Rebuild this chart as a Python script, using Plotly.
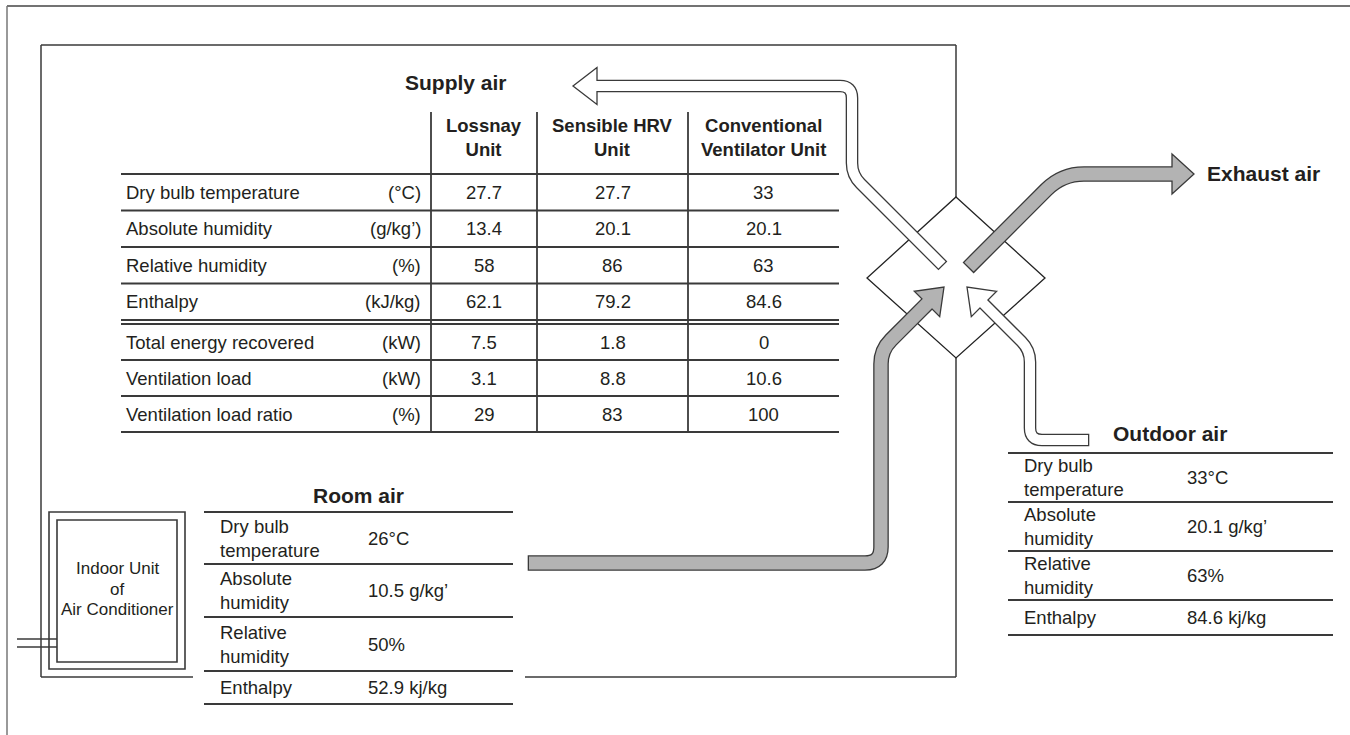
import math
import plotly.graph_objects as go

W, H = 1350, 735
INK = "#231f20"
LINE = "#3a3a3a"
GREY = "#b3b3b3"
FONT = "Liberation Sans, Arial, Helvetica, sans-serif"

# supply air comparison table
row_labels = ["Dry bulb temperature", "Absolute humidity", "Relative humidity", "Enthalpy",
              "Total energy recovered", "Ventilation load", "Ventilation load ratio"]
row_units = ["(°C)", "(g/kg’)", "(%)", "(kJ/kg)", "(kW)", "(kW)", "(%)"]
unit_headers = ["Lossnay<br>Unit", "Sensible HRV<br>Unit", "Conventional<br>Ventilator Unit"]
lossnay = [27.7, 13.4, 58, 62.1, 7.5, 3.1, 29]
sensible_hrv = [27.7, 20.1, 86, 79.2, 1.8, 8.8, 83]
conventional = [33, 20.1, 63, 84.6, 0, 10.6, 100]

# room / outdoor air conditions
air_labels = ["Dry bulb<br>temperature", "Absolute<br>humidity", "Relative<br>humidity", "Enthalpy"]
air_units = ["°C", " g/kg’", "%", " kj/kg"]
room_values = [26, 10.5, 50, 52.9]
outdoor_values = [33, 20.1, 63, 84.6]

shapes = []
annotations = []


def line(x0, y0, x1, y1, width=1.5, color=LINE):
    shapes.append(dict(type="line", x0=x0, y0=y0, x1=x1, y1=y1,
                       line=dict(color=color, width=width)))


def text(x, y, s, size=18.5, bold=False, anchor="center"):
    if bold:
        s = f"<b>{s}</b>"
    annotations.append(dict(x=x, y=y, text=s, showarrow=False, xanchor=anchor,
                            yanchor="middle", align=anchor,
                            font=dict(family=FONT, size=size, color=INK)))


def rounded_path(pts, radii):
    d = f"M {pts[0][0]:.1f},{pts[0][1]:.1f}"
    for i in range(1, len(pts) - 1):
        (xa, ya), (xb, yb), (xc, yc) = pts[i - 1], pts[i], pts[i + 1]
        r = radii[i - 1]
        l1 = math.hypot(xb - xa, yb - ya)
        l2 = math.hypot(xc - xb, yc - yb)
        p1 = (xb - (xb - xa) / l1 * r, yb - (yb - ya) / l1 * r)
        p2 = (xb + (xc - xb) / l2 * r, yb + (yc - yb) / l2 * r)
        d += f" L {p1[0]:.1f},{p1[1]:.1f} Q {xb:.1f},{yb:.1f} {p2[0]:.1f},{p2[1]:.1f}"
    d += f" L {pts[-1][0]:.1f},{pts[-1][1]:.1f}"
    return d


def arrow(pts, radii, width, fill, head_len, head_half):
    (x0, y0), (x1, y1) = pts[0], pts[1]
    l = math.hypot(x0 - x1, y0 - y1)
    pad = 1.3
    start = (x0 + (x0 - x1) / l * pad, y0 + (y0 - y1) / l * pad)
    shapes.append(dict(type="path", path=rounded_path([start] + pts[1:], radii),
                       line=dict(color=LINE, width=width + 2.6), fillcolor="rgba(0,0,0,0)"))
    (xa, ya), (xb, yb) = pts[-2], pts[-1]
    l = math.hypot(xb - xa, yb - ya)
    dx, dy = (xb - xa) / l, (yb - ya) / l
    nx, ny = -dy, dx
    tip = (xb + dx * head_len, yb + dy * head_len)
    b1 = (xb + nx * head_half, yb + ny * head_half)
    b2 = (xb - nx * head_half, yb - ny * head_half)
    shapes.append(dict(type="path",
                       path=f"M {b1[0]:.1f},{b1[1]:.1f} L {tip[0]:.1f},{tip[1]:.1f} "
                            f"L {b2[0]:.1f},{b2[1]:.1f} Z",
                       fillcolor=fill, line=dict(color=LINE, width=1.3)))
    inner = pts[:-1] + [(xb + dx * 2.5, yb + dy * 2.5)]
    shapes.append(dict(type="path", path=rounded_path(inner, radii),
                       line=dict(color=fill, width=width), fillcolor="rgba(0,0,0,0)"))


# page frame
line(7, 6, W, 6, 1.5, "#444")
line(7, 6, 7, H, 1.5, "#777")

# room outline
line(41, 45, 956, 45)
line(41, 45, 41, 677)
line(956, 45, 956, 197)
line(956, 358, 956, 677)
line(41, 677, 193, 677)
line(525, 677, 956, 677)

# heat exchanger core
shapes.append(dict(type="path", path="M 956,197 L 1045,278 L 956,358 L 867,278 Z",
                   fillcolor="white", line=dict(color="#222", width=1.3)))

# indoor unit
shapes.append(dict(type="rect", x0=49, y0=512, x1=185, y1=669, line=dict(color=LINE, width=1.6)))
shapes.append(dict(type="rect", x0=57, y0=520, x1=177, y1=662, line=dict(color=LINE, width=1.6)))
line(17, 639, 57, 639, 1.6)
line(17, 647, 57, 647, 1.6)
for yy, s in zip([568, 589, 609], ["Indoor Unit", "of", "Air Conditioner"]):
    text(117, yy, s, size=17)

# supply air table
col_x = [121, 431, 537, 688, 839]
row_lines = [174, 210.5, 247, 283.5, 320, 360, 396, 432]
for x in col_x[1:4]:
    line(x, 112, x, row_lines[-1], 1.8)
for y in row_lines:
    line(col_x[0], y, col_x[-1], y, 1.8)
line(col_x[0], 324, col_x[-1], 324, 1.8)
row_top = row_lines[:4] + [324] + row_lines[5:-1]
row_bot = row_lines[1:]
centers = [(col_x[i + 1] + col_x[i + 2]) / 2 for i in range(3)]
for cx, hdr in zip(centers, unit_headers):
    text(cx, 137, hdr, bold=True)
for i, (lab, unit) in enumerate(zip(row_labels, row_units)):
    yc = (row_top[i] + row_bot[i]) / 2
    text(124, yc, lab, anchor="left")
    text(423, yc, unit, anchor="right")
    for cx, series in zip(centers, [lossnay, sensible_hrv, conventional]):
        text(cx, yc, f"{series[i]:g}")
text(456, 82, "Supply air", size=21, bold=True)


def air_table(x0, x1, lines_y, title_x, title_y, title, values, vx):
    text(title_x, title_y, title, size=21, bold=True)
    for y in lines_y:
        line(x0, y, x1, y, 1.8)
    for i, (lab, v, u) in enumerate(zip(air_labels, values, air_units)):
        yc = (lines_y[i] + lines_y[i + 1]) / 2
        text(x0 + 14, yc, lab, anchor="left")
        text(vx, yc, f"{v:g}{u}", anchor="left")


air_table(204, 513, [512, 564, 617, 671, 704], 358, 495, "Room air", room_values, 366)
air_table(1008, 1333, [453, 502, 551, 600, 635], 1170, 433, "Outdoor air", outdoor_values, 1185)

# air flow arrows
arrow([(942, 265), (852, 175), (852, 86), (597, 86)], [12, 12], 10, "white", 24, 18.5)
arrow([(969, 267), (1062, 174), (1172, 174)], [22], 13, GREY, 22, 20)
arrow([(529, 563), (881, 563), (881, 350), (927, 304)], [16, 14], 13, GREY, 24, 18)
arrow([(1088, 440), (1030, 440), (1030, 350), (984, 304)], [12, 12], 10, "white", 24, 18)
text(1205, 173, "Exhaust air", size=21, bold=True, anchor="left")

fig = go.Figure()
fig.update_layout(
    width=W, height=H,
    margin=dict(l=0, r=0, t=0, b=0),
    paper_bgcolor="white", plot_bgcolor="white",
    shapes=shapes, annotations=annotations,
    showlegend=False,
)
fig.update_xaxes(range=[0, W], visible=False, fixedrange=True)
fig.update_yaxes(range=[H, 0], visible=False, fixedrange=True)

fig.write_html("out.html", config={"displayModeBar": False},
               post_script="document.body.style.margin='0';")
